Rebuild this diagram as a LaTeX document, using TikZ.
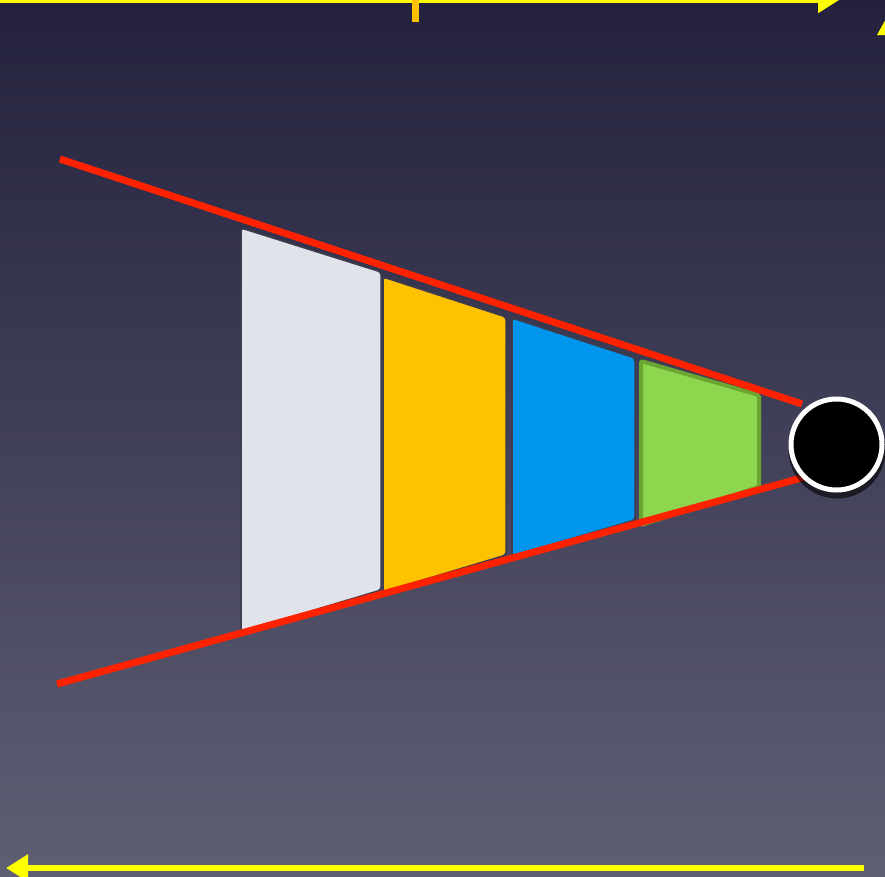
\documentclass[tikz,border=0pt]{standalone}
\usetikzlibrary{arrows.meta}
\definecolor{bgtop}{HTML}{23213D}
\definecolor{bgbot}{HTML}{5F5F74}
\definecolor{redline}{HTML}{FF2200}
\definecolor{yel}{HTML}{FFFF00}
\definecolor{tickc}{HTML}{FFC000}
\definecolor{cwhite}{HTML}{E0E3EA}
\definecolor{corange}{HTML}{FFC200}
\definecolor{cblue}{HTML}{0096EE}
\definecolor{cgreen}{HTML}{8ED64E}
\definecolor{cgreenb}{HTML}{6BA532}
\definecolor{edgec}{HTML}{3C3C4E}
\tikzset{
  slab/.style={draw=edgec, line width=1.5pt, rounded corners=3pt},
  ray/.style={draw=redline, line width=7pt},
  yarrow/.style={draw=yel, line width=6.5pt, -{Triangle[length=22pt,width=26pt]}},
}
\begin{document}
\begin{tikzpicture}[x=1pt,y=-1pt]
\useasboundingbox (0,0) rectangle (885,876);
\shade[top color=bgtop, bottom color=bgbot] (0,0) rectangle (885,876);
\begin{scope}
\clip (0,0) rectangle (885,876);
% slabs
\filldraw[slab, fill=cwhite] (241,228) -- (381,272) -- (381,590) -- (241,632) -- cycle;
\filldraw[slab, fill=corange] (383,277) -- (506,317) -- (506,555) -- (383,592) -- cycle;
\filldraw[slab, fill=cblue] (512,318) -- (635,358) -- (635,520) -- (512,556) -- cycle;
\filldraw[draw=cgreenb, line width=4pt, fill=cgreen, rounded corners=2pt] (641,361) -- (759,395) -- (759,487) -- (641,525) -- cycle;
% rays
\coordinate (u0) at (60,159);
\coordinate (u1) at (802,404);
\coordinate (l0) at (57,684);
\coordinate (l1) at (805,477);
\draw[ray] (u0) -- (u1);
\draw[ray] (l0) -- (l1);
% point
\fill[black, opacity=0.6] (837,450) circle (48.5);
\node[circle, fill=black, draw=white, line width=5pt, minimum size=91pt, inner sep=0pt] (pt) at (836.5,444.5) {};
% yellow arrows
\coordinate (t0) at (0,-0.5);
\coordinate (t1) at (840,-0.5);
\draw[yarrow] (t0) -- (t1);
\coordinate (k0) at (415,0);
\coordinate (k1) at (415,22);
\draw[tickc, line width=7pt] (k0) -- (k1);
\coordinate (b0) at (864,868);
\coordinate (b1) at (6,868);
\draw[yarrow] (b0) -- (b1);
\fill[yel] (877,35) -- (892,8) -- (907,35) -- cycle;
\end{scope}
\end{tikzpicture}
\end{document}
